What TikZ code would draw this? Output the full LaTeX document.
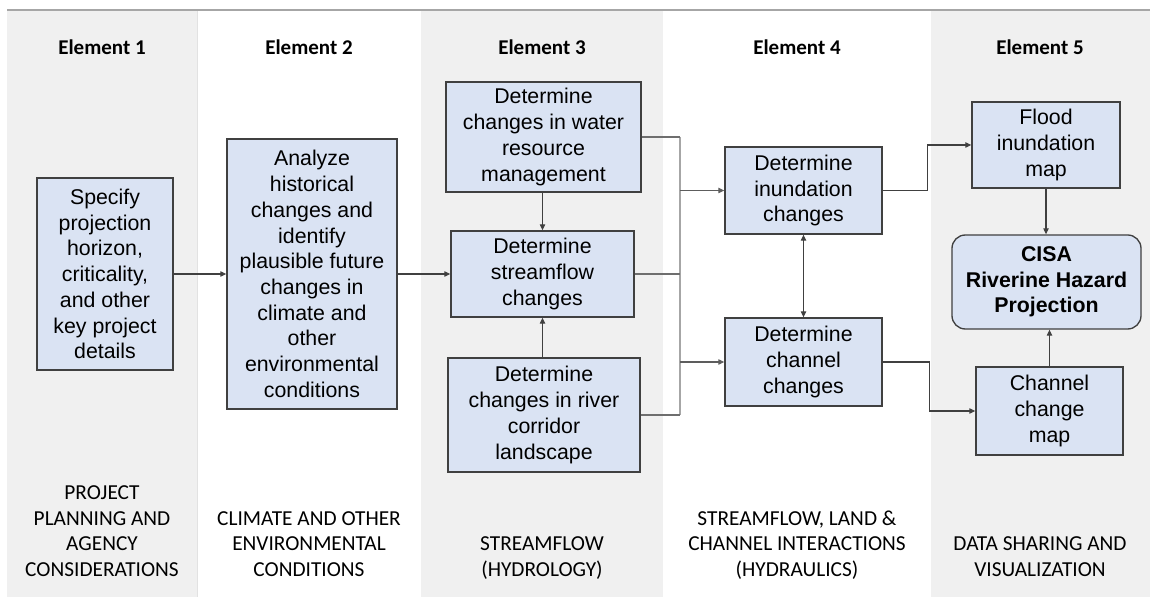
\documentclass[tikz,border=0pt]{standalone}
\usepackage{fontspec}
\setmainfont{Liberation Sans}
\newfontfamily\calibri{Carlito}
\usetikzlibrary{arrows.meta,calc}
\definecolor{colgray}{HTML}{F0F0F0}
\definecolor{colline}{HTML}{E2E2E2}
\definecolor{topline}{HTML}{A6A6A6}
\definecolor{boxfill}{HTML}{DAE3F3}
\definecolor{boxdraw}{HTML}{404040}
\definecolor{conn}{HTML}{404040}
\definecolor{busc}{HTML}{6E6E6E}
\definecolor{busv}{HTML}{A6A6A6}
\tikzset{
  box/.style={draw=boxdraw, fill=boxfill, line width=1pt, align=center, inner sep=0pt,
    font=\fontsize{16}{19.3}\selectfont},
  head/.style={font=\calibri\bfseries\fontsize{15.75}{19}\selectfont},
  foot/.style={font=\calibri\fontsize{16}{19.1}\selectfont, align=center, anchor=south, inner sep=0pt},
  arr/.style={draw=conn, line width=0.8pt, -{Triangle[length=4.5pt,width=4pt]}},
  dbl/.style={draw=conn, line width=0.8pt, {Triangle[length=4.5pt,width=4pt]}-{Triangle[length=4.5pt,width=4pt]}},
  bus/.style={draw=busc, line width=0.8pt},
  busvert/.style={draw=busv, line width=0.9pt},
  busarr/.style={draw=conn!85!white, line width=0.8pt, -{Triangle[length=4.5pt,width=4pt]}},
}
\begin{document}
\begin{tikzpicture}[x=0.75pt,y=-0.75pt]
\useasboundingbox (0,0) rectangle (1150,598);
% columns
\fill[colgray] (7,11) rectangle (197,597);
\draw[colline, line width=0.5pt] (197,11) -- (197,597);
\fill[colgray] (421,11) rectangle (663,597);
\fill[colgray] (931,11) rectangle (1150,597);
\draw[topline, line width=0.9pt] (7,10) -- (1150,10);
% headers
\node[head] (h1) at (102,47) {Element 1};
\node[head] (h2) at (309,47) {Element 2};
\node[head] (h3) at (542,47) {Element 3};
\node[head] (h4) at (797,47) {Element 4};
\node[head] (h5) at (1040,47) {Element 5};
% boxes
\node[box, minimum width=102pt, minimum height=144pt] (b1) at (105,274)
  {Specify\\projection\\horizon,\\criticality,\\and other\\key project\\details};
\node[box, minimum width=127.5pt, minimum height=202.5pt] (b2) at (312,274)
  {Analyze\\historical\\changes and\\identify\\plausible future\\changes in\\climate and\\other\\environmental\\conditions};
\node[box, minimum width=146.25pt, minimum height=82.5pt] (b3a) at (543.5,137)
  {Determine\\changes in water\\resource\\management};
\node[box, minimum width=137.25pt, minimum height=64.5pt] (b3b) at (542.5,274)
  {Determine\\streamflow\\changes};
\node[box, minimum width=144pt, minimum height=85.5pt] (b3c) at (544,415)
  {Determine\\changes in river\\corridor\\landscape};
\node[box, minimum width=117.75pt, minimum height=65.25pt] (b4a) at (803.5,190.5)
  {Determine\\inundation\\changes};
\node[box, minimum width=117.75pt, minimum height=66pt] (b4b) at (803.5,362)
  {Determine\\channel\\changes};
\node[box, minimum width=111pt, minimum height=64.5pt] (b5a) at (1046,145)
  {Flood\\inundation\\map};
\node[box, rounded corners=10pt, minimum width=141.75pt, minimum height=70.5pt,
  font=\bfseries\fontsize{16}{19.3}\selectfont] (cisa) at (1046.5,282)
  {CISA\\Riverine Hazard\\Projection};
\node[box, minimum width=110.25pt, minimum height=66pt] (b5b) at (1049.5,411)
  {Channel\\change\\map};
% footers
\node[foot] (f1) at (102,584) {PROJECT\\PLANNING AND\\AGENCY\\CONSIDERATIONS\strut};
\node[foot] (f2) at (309,584) {CLIMATE AND OTHER\\ENVIRONMENTAL\\CONDITIONS\strut};
\node[foot] (f3) at (542,584) {STREAMFLOW\\(HYDROLOGY)\strut};
\node[foot] (f4) at (797,584) {STREAMFLOW, LAND \&\\CHANNEL INTERACTIONS\\(HYDRAULICS)\strut};
\node[foot] (f5) at (1040,584) {DATA SHARING AND\\VISUALIZATION\strut};
% connectors
\draw[arr] (b1.east) -- (b2.west);
\draw[arr] (b2.east) -- (b3b.west);
\draw[arr] (b3a.south -| b3b.north) -- (b3b.north);
\draw[arr] (b3c.north -| b3b.south) -- (b3b.south);
\coordinate (busx) at (680,274);
\draw[busvert] (b3a.east -| busx) -- (b3c.east -| busx);
\draw[bus] (b3a.east) -- (b3a.east -| busx);
\draw[bus] (b3c.east) -- (b3c.east -| busx);
\draw[bus] (b3b.east) -- (busx);
\draw[busarr] (b4a.west -| busx) -- (b4a.west);
\draw[busarr] (b4b.west -| busx) -- (b4b.west);
\draw[dbl] (b4a.south) -- (b4b.north);
\draw[arr] (b4a.east) -- ++(45,0) |- (b5a.west);
\draw[arr] (b4b.east) -- ++(47,0) |- (b5b.west);
\draw[arr] (b5a.south) -- (b5a.south |- cisa.north);
\draw[arr] (b5b.north) -- (b5b.north |- cisa.south);
\end{tikzpicture}
\end{document}
